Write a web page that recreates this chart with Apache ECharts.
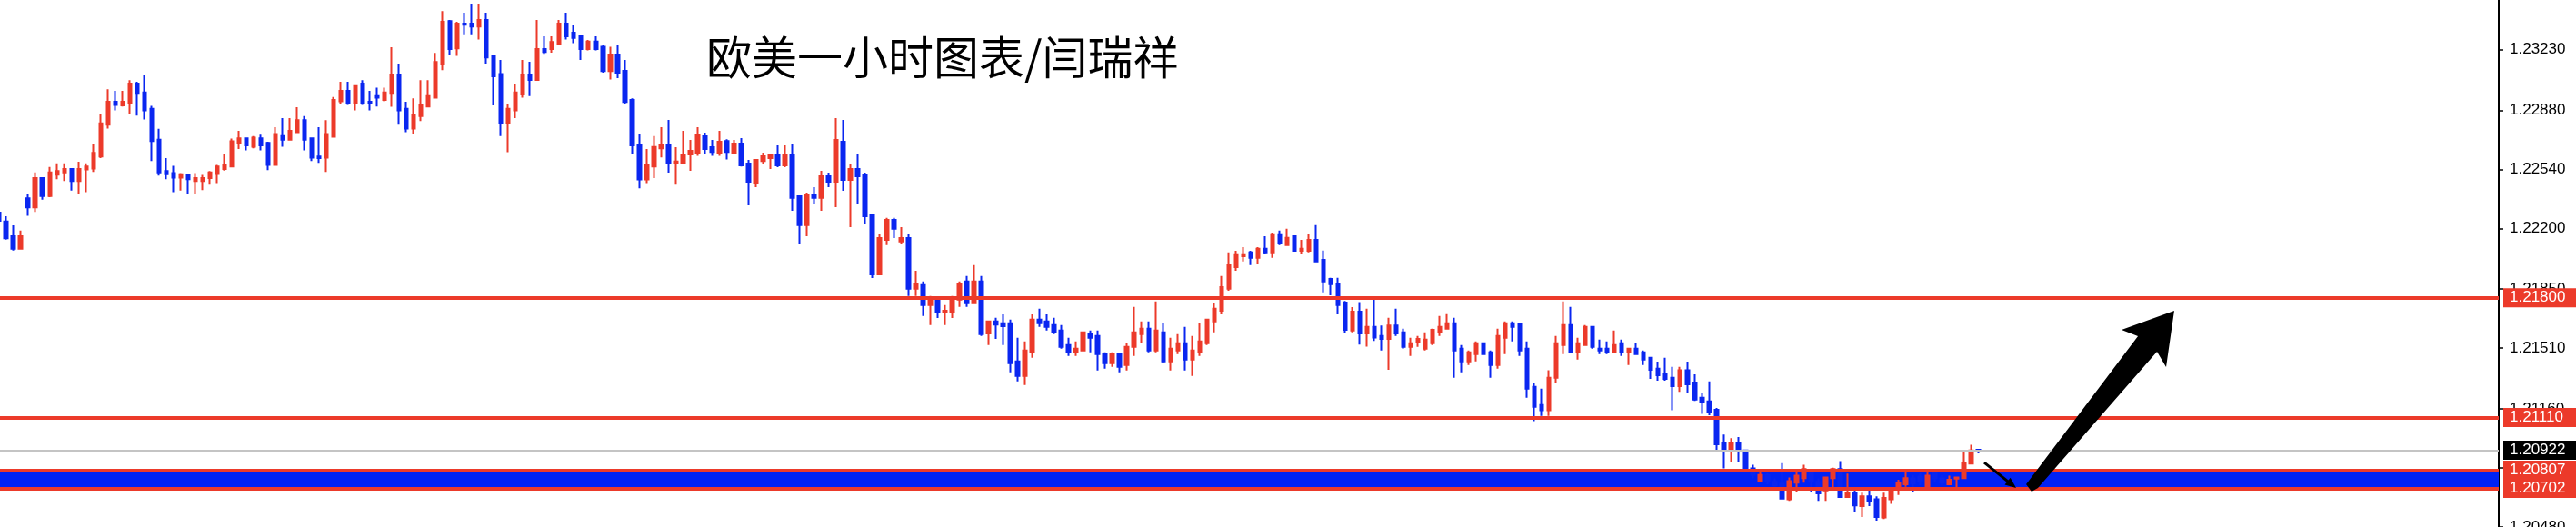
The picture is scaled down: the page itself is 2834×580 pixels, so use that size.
<!DOCTYPE html>
<html><head><meta charset="utf-8">
<script src="https://cdn.jsdelivr.net/npm/echarts@6/dist/echarts.min.js"></script>
<style>html,body{margin:0;padding:0;background:#fff;overflow:hidden}#c{width:2834px;height:580px}</style>
</head><body><div id="c"></div>
<script>
// ---- data (EURUSD H1) ----
const opens = [1.22291,1.22239,1.22155,1.22082,1.22373,1.22321,1.22490,1.22386,1.22509,1.22522,
1.22542,1.22473,1.22539,1.22544,1.22614,1.22797,1.22929,1.22908,1.22922,1.23034,
1.22982,1.22888,1.22710,1.22530,1.22518,1.22492,1.22509,1.22473,1.22473,1.22490,
1.22513,1.22542,1.22556,1.22691,1.22718,1.22670,1.22718,1.22692,1.22565,1.22731,
1.22710,1.22753,1.22823,1.22718,1.22614,1.22607,1.22727,1.22931,1.22992,1.22922,
1.23034,1.22929,1.22961,1.22940,1.22975,1.23086,1.22888,1.22774,1.22846,1.22901,
1.22952,1.23149,1.23393,1.23236,1.23379,1.23379,1.23362,1.23400,1.23193,1.23088,
1.22806,1.22879,1.22971,1.23086,1.23055,1.23233,1.23233,1.23262,1.23379,1.23327,
1.23306,1.23233,1.23275,1.23245,1.23105,1.23201,1.23107,1.22940,1.22678,1.22481,
1.22556,1.22661,1.22678,1.22577,1.22573,1.22626,1.22636,1.22730,1.22667,1.22636,
1.22702,1.22636,1.22688,1.22573,1.22458,1.22587,1.22605,1.22626,1.22563,1.22626,
1.22385,1.22218,1.22395,1.22375,1.22500,1.22469,1.22699,1.22479,1.22542,1.22510,
1.22280,1.21935,1.22134,1.22249,1.22124,1.22144,1.21852,1.21873,1.21758,1.21789,
1.21716,1.21716,1.21789,1.21894,1.21768,1.21894,1.21594,1.21664,1.21653,1.21653,
1.21434,1.21350,1.21486,1.21674,1.21664,1.21643,1.21611,1.21528,1.21486,1.21496,
1.21590,1.21580,1.21475,1.21423,1.21475,1.21413,1.21517,1.21590,1.21622,1.21496,
1.21601,1.21434,1.21496,1.21538,1.21444,1.21486,1.21538,1.21664,1.21726,1.21852,
1.21977,1.22040,1.22061,1.22030,1.22082,1.22061,1.22166,1.22103,1.22155,1.22071,
1.22071,1.22134,1.22019,1.21909,1.21883,1.21772,1.21612,1.21720,1.21594,1.21632,
1.21580,1.21563,1.21641,1.21601,1.21517,1.21542,1.21507,1.21538,1.21601,1.21622,
1.21654,1.21507,1.21434,1.21476,1.21538,1.21486,1.21413,1.21570,1.21654,1.21647,
1.21507,1.21287,1.21183,1.21152,1.21340,1.21528,1.21643,1.21486,1.21528,1.21632,
1.21507,1.21507,1.21486,1.21538,1.21486,1.21507,1.21486,1.21455,1.21392,1.21359,
1.21340,1.21291,1.21382,1.21312,1.21225,1.21204,1.21155,1.20967,1.20915,1.20967,
1.20921,1.20817,1.20747,1.20779,1.20740,1.20730,1.20639,1.20735,1.20761,1.20800,
1.20740,1.20691,1.20761,1.20813,1.20653,1.20677,1.20601,1.20657,1.20639,1.20535,
1.20639,1.20695,1.20726,1.20760,1.20770,1.20712,1.20790,1.20760,1.20726,1.20758,
1.20761,1.20845,1.20925];
const closes = [1.22243,1.22143,1.22082,1.22155,1.22321,1.22490,1.22386,1.22522,1.22530,1.22542,
1.22473,1.22542,1.22556,1.22635,1.22804,1.22929,1.22910,1.22929,1.23034,1.22975,
1.22879,1.22703,1.22522,1.22511,1.22492,1.22511,1.22483,1.22490,1.22490,1.22522,
1.22556,1.22563,1.22701,1.22718,1.22678,1.22722,1.22678,1.22565,1.22743,1.22710,
1.22762,1.22823,1.22710,1.22607,1.22605,1.22743,1.22940,1.22992,1.22919,1.23024,
1.22919,1.22921,1.22952,1.22982,1.23086,1.22879,1.22774,1.22856,1.22908,1.22961,
1.23158,1.23390,1.23233,1.23379,1.23372,1.23362,1.23400,1.23184,1.23076,1.22806,
1.22888,1.22982,1.23086,1.23055,1.23233,1.23215,1.23273,1.23379,1.23306,1.23297,
1.23233,1.23275,1.23233,1.23105,1.23201,1.23097,1.22928,1.22678,1.22481,1.22563,
1.22668,1.22678,1.22573,1.22585,1.22626,1.22646,1.22741,1.22657,1.22640,1.22699,
1.22640,1.22688,1.22563,1.22469,1.22594,1.22615,1.22626,1.22563,1.22626,1.22375,
1.22218,1.22395,1.22375,1.22500,1.22469,1.22709,1.22479,1.22542,1.22500,1.22270,
1.21935,1.22144,1.22249,1.22197,1.22144,1.21852,1.21883,1.21758,1.21789,1.21716,
1.21726,1.21799,1.21883,1.21768,1.21894,1.21590,1.21664,1.21646,1.21636,1.21423,
1.21350,1.21496,1.21674,1.21653,1.21632,1.21601,1.21517,1.21486,1.21507,1.21601,
1.21570,1.21475,1.21423,1.21475,1.21402,1.21517,1.21601,1.21622,1.21496,1.21611,
1.21434,1.21507,1.21538,1.21444,1.21496,1.21549,1.21674,1.21737,1.21862,1.21988,
1.22051,1.22051,1.22030,1.22082,1.22061,1.22166,1.22113,1.22145,1.22071,1.22082,
1.22134,1.22009,1.21894,1.21878,1.21758,1.21615,1.21720,1.21594,1.21632,1.21571,
1.21563,1.21641,1.21594,1.21517,1.21538,1.21563,1.21559,1.21615,1.21632,1.21654,
1.21497,1.21434,1.21486,1.21538,1.21476,1.21413,1.21580,1.21654,1.21632,1.21497,
1.21277,1.21172,1.21152,1.21340,1.21538,1.21643,1.21486,1.21538,1.21632,1.21517,
1.21497,1.21486,1.21528,1.21486,1.21507,1.21476,1.21444,1.21385,1.21354,1.21333,
1.21291,1.21382,1.21301,1.21214,1.21197,1.21145,1.20956,1.20915,1.20967,1.20915,
1.20817,1.20780,1.20779,1.20740,1.20720,1.20643,1.20744,1.20775,1.20813,1.20740,
1.20674,1.20765,1.20813,1.20653,1.20677,1.20604,1.20657,1.20630,1.20538,1.20648,
1.20695,1.20735,1.20761,1.20730,1.20740,1.20775,1.20760,1.20735,1.20752,1.20765,
1.20848,1.20921,1.20918];
const lows = [1.22239,1.22135,1.22072,1.22082,1.22272,1.22295,1.22365,1.22379,1.22483,1.22473,
1.22417,1.22400,1.22408,1.22525,1.22605,1.22774,1.22879,1.22901,1.22856,1.22849,
1.22827,1.22588,1.22504,1.22483,1.22408,1.22417,1.22400,1.22400,1.22420,1.22452,
1.22461,1.22532,1.22553,1.22657,1.22649,1.22661,1.22649,1.22535,1.22565,1.22670,
1.22705,1.22753,1.22649,1.22588,1.22577,1.22525,1.22725,1.22914,1.22910,1.22879,
1.22910,1.22879,1.22901,1.22931,1.22900,1.22797,1.22753,1.22743,1.22818,1.22896,
1.22952,1.23111,1.23201,1.23193,1.23318,1.23318,1.23288,1.23149,1.22908,1.22731,
1.22638,1.22835,1.22952,1.22961,1.23055,1.23205,1.23212,1.23254,1.23288,1.23266,
1.23170,1.23224,1.23224,1.23097,1.23057,1.23065,1.22919,1.22626,1.22431,1.22461,
1.22490,1.22609,1.22521,1.22451,1.22573,1.22531,1.22617,1.22626,1.22617,1.22617,
1.22596,1.22636,1.22556,1.22333,1.22437,1.22573,1.22542,1.22552,1.22552,1.22301,
1.22113,1.22155,1.22343,1.22301,1.22437,1.22322,1.22416,1.22207,1.22343,1.22228,
1.21914,1.21935,1.22103,1.22144,1.22113,1.21810,1.21810,1.21695,1.21643,1.21684,
1.21643,1.21684,1.21747,1.21747,1.21768,1.21580,1.21528,1.21563,1.21528,1.21371,
1.21319,1.21298,1.21454,1.21632,1.21611,1.21590,1.21507,1.21465,1.21465,1.21496,
1.21486,1.21381,1.21392,1.21402,1.21371,1.21381,1.21465,1.21538,1.21486,1.21486,
1.21423,1.21381,1.21475,1.21381,1.21350,1.21465,1.21528,1.21601,1.21705,1.21841,
1.21956,1.22009,1.21988,1.21998,1.22051,1.22030,1.22103,1.22103,1.22071,1.22051,
1.22061,1.22009,1.21831,1.21815,1.21705,1.21594,1.21601,1.21531,1.21519,1.21552,
1.21497,1.21385,1.21580,1.21507,1.21465,1.21517,1.21497,1.21528,1.21580,1.21622,
1.21340,1.21371,1.21413,1.21434,1.21476,1.21340,1.21392,1.21476,1.21549,1.21465,
1.21225,1.21089,1.21120,1.21120,1.21308,1.21476,1.21486,1.21444,1.21528,1.21507,
1.21476,1.21476,1.21486,1.21465,1.21413,1.21476,1.21413,1.21333,1.21322,1.21322,
1.21153,1.21258,1.21249,1.21206,1.21131,1.21124,1.20915,1.20817,1.20852,1.20857,
1.20800,1.20760,1.20747,1.20725,1.20712,1.20643,1.20630,1.20683,1.20735,1.20683,
1.20630,1.20630,1.20709,1.20653,1.20653,1.20569,1.20538,1.20601,1.20517,1.20526,
1.20613,1.20665,1.20712,1.20683,1.20720,1.20712,1.20740,1.20720,1.20723,1.20709,
1.20758,1.20840,1.20904];
const highs = [1.22298,1.22269,1.22217,1.22187,1.22396,1.22522,1.22490,1.22553,1.22574,1.22574,
1.22542,1.22583,1.22574,1.22687,1.22856,1.23001,1.22992,1.22992,1.23053,1.23044,
1.23086,1.22905,1.22773,1.22605,1.22560,1.22518,1.22509,1.22518,1.22508,1.22530,
1.22565,1.22626,1.22717,1.22762,1.22718,1.22731,1.22739,1.22699,1.22783,1.22835,
1.22835,1.22898,1.22846,1.22718,1.22783,1.22823,1.22957,1.23044,1.23044,1.23030,
1.23053,1.22992,1.23010,1.23010,1.23243,1.23149,1.22929,1.22949,1.23053,1.23053,
1.23210,1.23451,1.23400,1.23390,1.23442,1.23494,1.23494,1.23442,1.23201,1.23170,
1.22917,1.23034,1.23170,1.23159,1.23400,1.23306,1.23306,1.23400,1.23442,1.23369,
1.23306,1.23285,1.23306,1.23254,1.23245,1.23254,1.23170,1.22949,1.22741,1.22657,
1.22731,1.22783,1.22824,1.22667,1.22761,1.22709,1.22782,1.22751,1.22709,1.22761,
1.22713,1.22709,1.22720,1.22594,1.22594,1.22636,1.22626,1.22678,1.22678,1.22688,
1.22385,1.22406,1.22437,1.22531,1.22521,1.22835,1.22824,1.22573,1.22626,1.22521,
1.22280,1.22165,1.22260,1.22260,1.22207,1.22165,1.21956,1.21894,1.21810,1.21789,
1.21758,1.21810,1.21894,1.21925,1.21988,1.21925,1.21664,1.21685,1.21705,1.21674,
1.21570,1.21549,1.21705,1.21737,1.21705,1.21685,1.21643,1.21570,1.21549,1.21601,
1.21611,1.21611,1.21486,1.21486,1.21475,1.21538,1.21747,1.21664,1.21664,1.21779,
1.21653,1.21570,1.21590,1.21632,1.21580,1.21653,1.21674,1.21768,1.21925,1.22061,
1.22071,1.22092,1.22071,1.22092,1.22155,1.22176,1.22187,1.22197,1.22155,1.22134,
1.22166,1.22218,1.22072,1.21915,1.21915,1.21781,1.21746,1.21775,1.21737,1.21789,
1.21641,1.21685,1.21737,1.21622,1.21570,1.21580,1.21601,1.21622,1.21695,1.21706,
1.21685,1.21528,1.21497,1.21549,1.21538,1.21497,1.21622,1.21664,1.21664,1.21654,
1.21549,1.21308,1.21277,1.21382,1.21580,1.21779,1.21748,1.21570,1.21643,1.21632,
1.21559,1.21549,1.21612,1.21559,1.21507,1.21538,1.21497,1.21455,1.21432,1.21455,
1.21402,1.21402,1.21432,1.21359,1.21249,1.21319,1.21165,1.21012,1.20991,1.20998,
1.20921,1.20838,1.20799,1.20790,1.20760,1.20848,1.20765,1.20799,1.20838,1.20813,
1.20760,1.20765,1.20822,1.20859,1.20787,1.20695,1.20677,1.20691,1.20657,1.20677,
1.20709,1.20752,1.20796,1.20780,1.20790,1.20796,1.20800,1.20780,1.20775,1.20765,
1.20909,1.20953,1.20925];
const tickValues = [1.23230, 1.22880, 1.22540, 1.22200, 1.21850, 1.21510, 1.21160, 1.20820, 1.20480];
const resistanceLevels = [1.21800, 1.21110];
const zoneTop = 1.20807;
const zoneBottom = 1.20702;
const bidPrice = 1.20922;
const titleText = '欧美一小时图表/闫瑞祥';
const slotCount = 344; // candle slots incl. empty right margin
// annotation arrows, in chart coordinates [slot index, price]
const bigArrow = [[278.56,1.20726],[279.31,1.20684],[280.18,1.20705],[296.54,1.21490],[297.79,1.21401],[298.91,1.21725],[291.67,1.21616],[293.92,1.21579]];
const smallArrowLine = [[272.81,1.20851],[276.06,1.20742]];
const smallArrowHead = [[277.18,1.20705],[275.62,1.20723],[276.39,1.20764]];

// ---- chart ----
const RED = '#EC3A2A', BLUE = '#0A26F0', BAND = '#0022F4';
const cats = Array.from({length: slotCount}, (_, i) => i);
const ohlc = opens.map((o, i) => [o, closes[i], lows[i], highs[i]]);
const FONT = 'Liberation Sans';
function boxLabel(bg) {
  return { show: true, position: 'end', distance: 5, color: '#fff', backgroundColor: bg,
    padding: [2, 6, 2, 7], fontSize: 17, lineHeight: 17, fontFamily: FONT, width: 72,
    formatter: p => Number(p.value).toFixed(5) };
}
const lineData = resistanceLevels.map(v => ({ yAxis: v, lineStyle: { color: RED, width: 4, type: 'solid' }, label: boxLabel(RED) }));
lineData.push({ yAxis: bidPrice, lineStyle: { color: '#C4C4C4', width: 2, type: 'solid' }, label: boxLabel('#000') });
lineData.push({ yAxis: zoneTop, lineStyle: { color: RED, width: 4, type: 'solid' }, label: boxLabel(RED) });
lineData.push({ yAxis: zoneBottom, lineStyle: { color: RED, width: 4, type: 'solid' }, label: boxLabel(RED) });

const chart = echarts.init(document.getElementById('c'), null, { renderer: 'canvas' });
chart.setOption({
  animation: false,
  backgroundColor: '#fff',
  grid: { left: -5.3, right: 85, top: 0, bottom: 0, containLabel: false, outerBoundsMode: 'none' },
  xAxis: { type: 'category', data: cats, boundaryGap: true, show: false },
  yAxis: {
    type: 'value', position: 'right', min: 1.20480, max: 1.23515, scale: true,
    axisLine: { show: true, lineStyle: { color: '#000', width: 2 } },
    axisTick: { show: true, inside: false, length: 5, lineStyle: { color: '#000', width: 1.5 }, customValues: tickValues },
    axisLabel: { show: true, customValues: tickValues, margin: 12, color: '#000', fontSize: 17, fontFamily: FONT,
      formatter: v => Number(v).toFixed(5), showMinLabel: true, showMaxLabel: true },
    splitLine: { show: false }
  },
  series: [{
    type: 'candlestick', data: ohlc, barWidth: 4, large: false,
    itemStyle: { color: RED, color0: BLUE, borderColor: RED, borderColor0: BLUE, borderWidth: 2 },
    markLine: { symbol: ['none', 'none'], precision: 5, silent: true, animation: false, data: lineData },
    markArea: { silent: true, animation: false, precision: 5, itemStyle: { color: BAND, opacity: 1 },
      data: [[{ yAxis: zoneTop }, { yAxis: zoneBottom }]] }
  }]
});

function toPx(pt) {
  const x0 = chart.convertToPixel({ xAxisIndex: 0 }, 0);
  const x1 = chart.convertToPixel({ xAxisIndex: 0 }, 1);
  const y = chart.convertToPixel({ yAxisIndex: 0 }, pt[1]);
  return [x0 + (x1 - x0) * pt[0], y];
}
chart.setOption({
  graphic: [
    { type: 'text', left: 777, top: 38, z: 100,
      style: { text: titleText, fill: '#000', font: '50px "Noto Sans CJK SC"' } },
    { type: 'polygon', z: 100, shape: { points: bigArrow.map(toPx) }, style: { fill: '#000' } },
    { type: 'polyline', z: 100, shape: { points: smallArrowLine.map(toPx) }, style: { stroke: '#000', lineWidth: 3 } },
    { type: 'polygon', z: 100, shape: { points: smallArrowHead.map(toPx) }, style: { fill: '#000' } }
  ]
});
</script></body></html>
